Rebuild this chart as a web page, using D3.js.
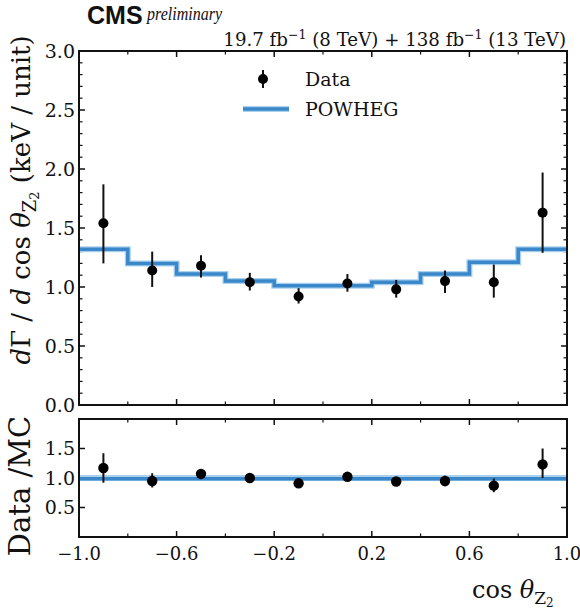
<!DOCTYPE html>
<html>
<head>
<meta charset="utf-8">
<script src="https://cdn.jsdelivr.net/npm/d3@7"></script>
<style>
  body { margin: 0; background: #fff; }
  svg text { font-family: "DejaVu Serif", "Liberation Serif", serif; fill: #111; }
</style>
</head>
<body>
<svg id="chart" width="580" height="610"></svg>
<script>
// bin centres of cos(theta_Z2), width 0.2
const binCenters = [-0.9, -0.7, -0.5, -0.3, -0.1, 0.1, 0.3, 0.5, 0.7, 0.9];
const binEdges = [-1.0, -0.8, -0.6, -0.4, -0.2, 0.0, 0.2, 0.4, 0.6, 0.8, 1.0];

// measured dGamma/dcos (keV/unit)
const dataVals = [1.54, 1.14, 1.18, 1.04, 0.92, 1.03, 0.98, 1.05, 1.04, 1.63];
const dataLo   = [1.20, 1.00, 1.08, 0.97, 0.86, 0.96, 0.91, 0.95, 0.91, 1.29];
const dataHi   = [1.87, 1.30, 1.27, 1.12, 0.99, 1.11, 1.06, 1.14, 1.19, 1.97];

// POWHEG prediction per bin
const modelVals = [1.32, 1.20, 1.11, 1.05, 1.01, 1.01, 1.04, 1.11, 1.21, 1.32];

// Data / MC
const ratioVals = [1.17, 0.95, 1.07, 1.00, 0.91, 1.02, 0.94, 0.95, 0.87, 1.23];
const ratioLo   = [0.92, 0.84, 0.98, 0.93, 0.85, 0.95, 0.87, 0.86, 0.76, 1.00];
const ratioHi   = [1.42, 1.08, 1.15, 1.07, 0.97, 1.10, 1.01, 1.04, 0.99, 1.50];

const xMajor = [-1.0, -0.6, -0.2, 0.2, 0.6, 1.0];
const xMinor = [-0.8, -0.4, 0.0, 0.4, 0.8];
const yMajor = [0.0, 0.5, 1.0, 1.5, 2.0, 2.5, 3.0];
const rMajor = [0.5, 1.0, 1.5];

const svg = d3.select("#chart");
const L = 79, R = 567;
const x = d3.scaleLinear().domain([-1, 1]).range([L, R]);
const y = d3.scaleLinear().domain([0, 3]).range([405, 51]);
const yr = d3.scaleLinear().domain([0, 2]).range([537, 419]);

const BLUE = "#3a88c9", LIGHT = "#a9d1ee";
const fmt = d => d3.format(".1f")(d).replace("-", "\u2212");

function panel(ys, majorY, minorY) {
  const g = svg.append("g");
  const [y0, y1] = ys.range();
  // ticks point inward on all four sides
  xMajor.forEach(v => {
    g.append("line").attr("x1", x(v)).attr("x2", x(v)).attr("y1", y0).attr("y2", y0 - 6).attr("stroke", "#111").attr("stroke-width", 1.5);
    g.append("line").attr("x1", x(v)).attr("x2", x(v)).attr("y1", y1).attr("y2", y1 + 6).attr("stroke", "#111").attr("stroke-width", 1.5);
  });
  xMinor.forEach(v => {
    g.append("line").attr("x1", x(v)).attr("x2", x(v)).attr("y1", y0).attr("y2", y0 - 3.5).attr("stroke", "#111").attr("stroke-width", 1.2);
    g.append("line").attr("x1", x(v)).attr("x2", x(v)).attr("y1", y1).attr("y2", y1 + 3.5).attr("stroke", "#111").attr("stroke-width", 1.2);
  });
  majorY.forEach(v => {
    g.append("line").attr("x1", L).attr("x2", L + 6).attr("y1", ys(v)).attr("y2", ys(v)).attr("stroke", "#111").attr("stroke-width", 1.5);
    g.append("line").attr("x1", R).attr("x2", R - 6).attr("y1", ys(v)).attr("y2", ys(v)).attr("stroke", "#111").attr("stroke-width", 1.5);
    g.append("text").attr("x", L - 4).attr("y", ys(v)).attr("dy", "0.36em")
      .attr("text-anchor", "end").style("font-size", "19px").text(fmt(v));
  });
  minorY.forEach(v => {
    g.append("line").attr("x1", L).attr("x2", L + 3.5).attr("y1", ys(v)).attr("y2", ys(v)).attr("stroke", "#111").attr("stroke-width", 1.2);
    g.append("line").attr("x1", R).attr("x2", R - 3.5).attr("y1", ys(v)).attr("y2", ys(v)).attr("stroke", "#111").attr("stroke-width", 1.2);
  });
  return g;
}

const yMinor = d3.range(0, 3.001, 0.1).map(v => +v.toFixed(1)).filter(v => !yMajor.includes(v));
panel(y, yMajor, yMinor);
panel(yr, rMajor, []);

// POWHEG step histogram
const stepPts = binEdges.map((e, i) => [e, modelVals[Math.min(i, modelVals.length - 1)]]);
const step = d3.line().x(d => x(d[0])).y(d => y(d[1])).curve(d3.curveStepAfter);
svg.append("path").attr("d", step(stepPts)).attr("fill", "none").attr("stroke", LIGHT).attr("stroke-width", 6);
svg.append("path").attr("d", step(stepPts)).attr("fill", "none").attr("stroke", BLUE).attr("stroke-width", 3.5);

// data points main
const gm = svg.append("g");
binCenters.forEach((c, i) => {
  gm.append("line").attr("x1", x(c)).attr("x2", x(c)).attr("y1", y(dataLo[i])).attr("y2", y(dataHi[i]))
    .attr("stroke", "#111").attr("stroke-width", 2);
  gm.append("circle").attr("cx", x(c)).attr("cy", y(dataVals[i])).attr("r", 5).attr("fill", "#000");
});

// ratio reference line
svg.append("line").attr("x1", L).attr("x2", R).attr("y1", yr(1)).attr("y2", yr(1)).attr("stroke", LIGHT).attr("stroke-width", 6);
svg.append("line").attr("x1", L).attr("x2", R).attr("y1", yr(1) + 0.8).attr("y2", yr(1) + 0.8).attr("stroke", BLUE).attr("stroke-width", 3.5);

const gr = svg.append("g");
binCenters.forEach((c, i) => {
  gr.append("line").attr("x1", x(c)).attr("x2", x(c)).attr("y1", yr(ratioLo[i])).attr("y2", yr(ratioHi[i]))
    .attr("stroke", "#111").attr("stroke-width", 2);
  gr.append("circle").attr("cx", x(c)).attr("cy", yr(ratioVals[i])).attr("r", 5.2).attr("fill", "#000");
});

// frames
[y, yr].forEach(s => {
  const [b, t] = s.range();
  svg.append("rect").attr("x", L).attr("y", t).attr("width", R - L).attr("height", b - t)
    .attr("fill", "none").attr("stroke", "#111").attr("stroke-width", 2);
});

// x tick labels
xMajor.forEach(v => {
  svg.append("text").attr("x", x(v)).attr("y", 560).attr("text-anchor", "middle")
    .style("font-size", "18px").text(fmt(v));
});

// x label
const xl = svg.append("text").attr("x", 472).attr("y", 598).style("font-size", "24px");
xl.append("tspan").text("cos ");
xl.append("tspan").style("font-style", "italic").text("\u03b8");
xl.append("tspan").attr("dy", 6).style("font-size", "17px").text("Z");
xl.append("tspan").attr("dy", 3).style("font-size", "12px").text("2");

// y label main
const yl = svg.append("text").attr("transform", "translate(30,200) rotate(-90)").attr("text-anchor", "middle").style("font-size", "26px");
yl.append("tspan").style("font-style", "italic").text("d");
yl.append("tspan").text("\u0393 / ");
yl.append("tspan").style("font-style", "italic").text("d");
yl.append("tspan").text(" cos ");
yl.append("tspan").style("font-style", "italic").text("\u03b8");
yl.append("tspan").attr("dy", 6).style("font-size", "18px").text("Z");
yl.append("tspan").attr("dy", 3).style("font-size", "13px").text("2");
yl.append("tspan").attr("dy", -9).text(" (keV / unit)");

// y label ratio
svg.append("text").attr("transform", "translate(30,486) rotate(-90)").attr("text-anchor", "middle")
  .style("font-size", "29px").text("Data /MC");

// legend
svg.append("line").attr("x1", 263).attr("x2", 263).attr("y1", 70).attr("y2", 88).attr("stroke", "#111").attr("stroke-width", 2);
svg.append("circle").attr("cx", 263).attr("cy", 79).attr("r", 5).attr("fill", "#000");
svg.append("text").attr("x", 305).attr("y", 86).style("font-size", "19px").text("Data");
svg.append("line").attr("x1", 243).attr("x2", 289).attr("y1", 109).attr("y2", 109).attr("stroke", LIGHT).attr("stroke-width", 6);
svg.append("line").attr("x1", 243).attr("x2", 289).attr("y1", 109).attr("y2", 109).attr("stroke", BLUE).attr("stroke-width", 3.5);
svg.append("text").attr("x", 305).attr("y", 116).style("font-size", "19px").text("POWHEG");

// header
svg.append("text").attr("x", 87).attr("y", 24).style("font-family", "'Liberation Sans', Arial, sans-serif")
  .style("font-weight", "bold").style("font-size", "25px").text("CMS");
svg.append("text").attr("x", 147).attr("y", 20).style("font-family", "'Liberation Serif', serif")
  .style("font-style", "italic").style("font-size", "19px")
  .attr("textLength", 75).attr("lengthAdjust", "spacingAndGlyphs").text("preliminary");

const lum = svg.append("text").attr("x", 566).attr("y", 46).attr("text-anchor", "end").style("font-size", "18.2px");
lum.append("tspan").text("19.7 fb");
lum.append("tspan").attr("dy", -7).style("font-size", "12.5px").text("\u22121");
lum.append("tspan").attr("dy", 7).text(" (8 TeV) + 138 fb");
lum.append("tspan").attr("dy", -7).style("font-size", "12.5px").text("\u22121");
lum.append("tspan").attr("dy", 7).text(" (13 TeV)");
</script>
</body>
</html>
